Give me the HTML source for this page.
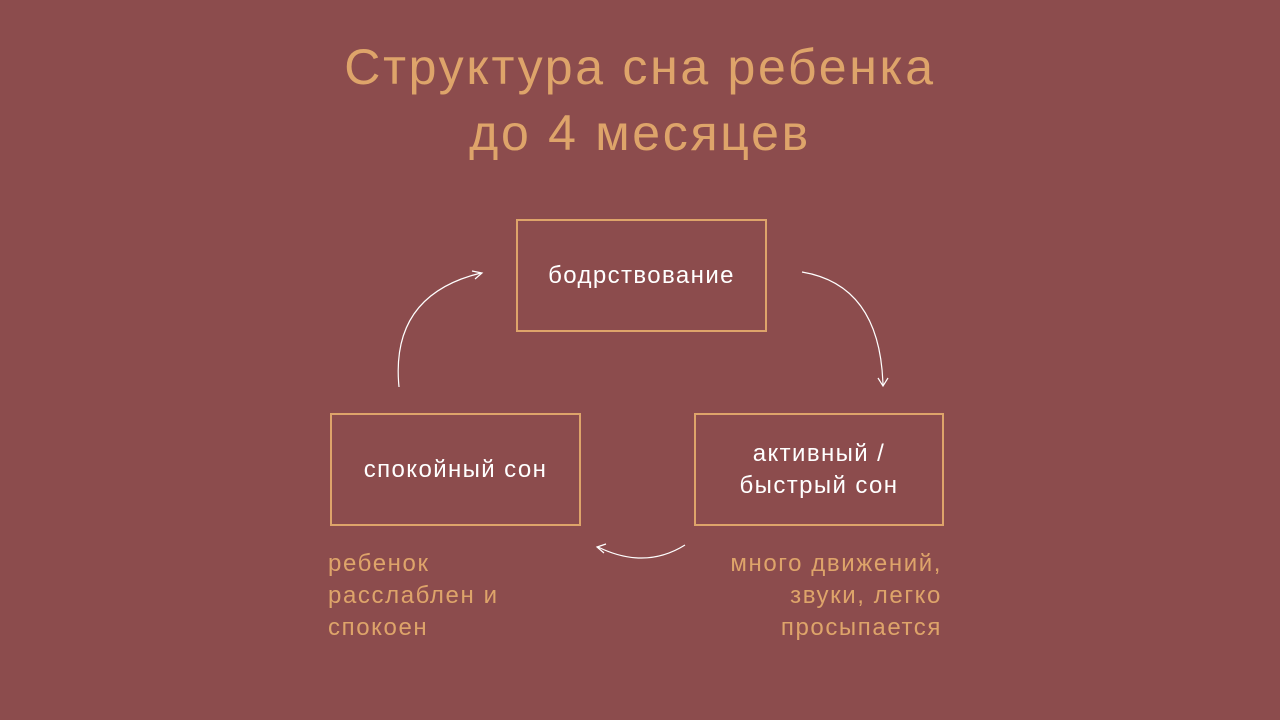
<!DOCTYPE html>
<html><head><meta charset="utf-8"><style>
body{margin:0;width:1280px;height:720px;background:#8c4c4d;position:relative;overflow:hidden;font-family:"Liberation Sans","DejaVu Sans",sans-serif}
.t{position:absolute;left:0;width:1280px;text-align:center;color:#dea46a;font-family:"Liberation Sans",sans-serif;font-size:50px;line-height:60px;letter-spacing:2.7px}
.b{position:absolute;border:2px solid #dea46a;box-sizing:border-box;color:#fff;font-size:24px;letter-spacing:1.4px;display:flex;align-items:center;justify-content:center;text-align:center;line-height:32px}
.n{position:absolute;color:#dea46a;font-size:24px;letter-spacing:1.6px;line-height:32px}
</style></head><body>
<div class="t" style="top:37px">Структура сна ребенка</div>
<div class="t" style="top:103px">до 4 месяцев</div>
<div class="b" style="left:516px;top:219px;width:251px;height:113px">бодрствование</div>
<div class="b" style="left:330px;top:413px;width:251px;height:113px">спокойный сон</div>
<div class="b" style="left:694px;top:413px;width:250px;height:113px">активный /<br>быстрый сон</div>
<div class="n" style="left:328px;top:548px">ребенок<br>расслаблен и<br>спокоен</div>
<div class="n" style="right:338px;top:548px;text-align:right">много движений,<br>звуки, легко<br>просыпается</div>
<svg width="1280" height="720" style="position:absolute;left:0;top:0" fill="none" stroke="#fff" stroke-width="1.2">
<path d="M802 272 Q880 285 883 385"/><path d="M878 378 L883 386 L888 378"/>
<path d="M685 545 Q645 570 598 547"/><path d="M606 544 L597 547 L604 553"/>
<path d="M399 387 Q390 295 481 273"/><path d="M472 271 L482 273 L475 279"/>
</svg>
</body></html>
